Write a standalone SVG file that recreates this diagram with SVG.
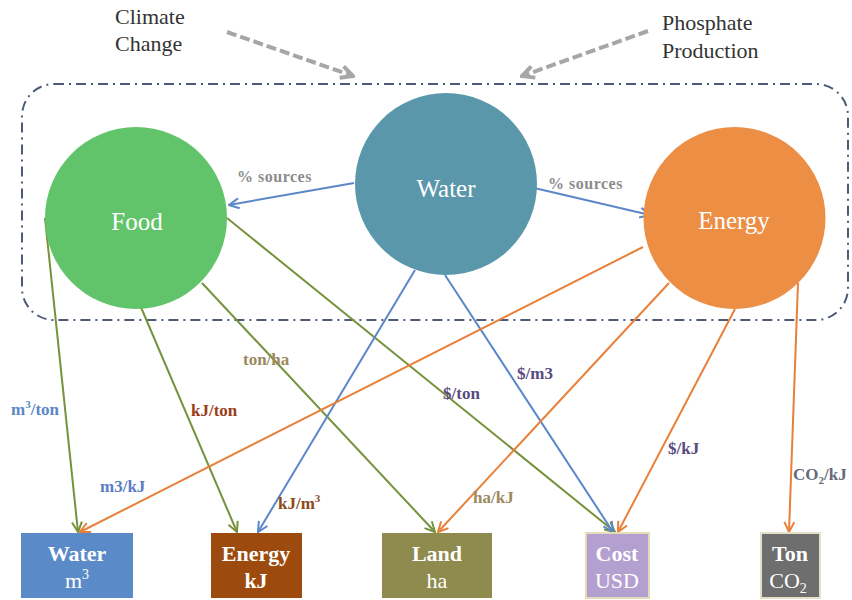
<svg xmlns="http://www.w3.org/2000/svg" width="852" height="600" viewBox="0 0 852 600">
<style>
text{font-family:"Liberation Serif","Times New Roman",Times,serif}
.top{font-size:22px;fill:#333}
.cn{font-size:25px;fill:#fff;text-anchor:middle}
.bx{font-size:22px;fill:#fff;text-anchor:middle}
.b{font-weight:bold}
.lb{font-size:17px;font-weight:bold}
.src{font-size:16px;font-weight:bold;fill:#8c8c8c;letter-spacing:0.5px}
.g{stroke:#76923c;stroke-width:2;fill:none}
.bl{stroke:#5b87c8;stroke-width:2;fill:none}
.o{stroke:#e8803a;stroke-width:2;fill:none}
.dash{stroke:#a6a6a6;stroke-width:4;fill:none;stroke-dasharray:10 4}
</style>
<defs>
<marker id="ag" viewBox="0 0 12 12" refX="11" refY="6" markerWidth="12" markerHeight="12" markerUnits="userSpaceOnUse" orient="auto"><path d="M1,1 L11,6 L1,11" fill="none" stroke="#76923c" stroke-width="2"/></marker>
<marker id="ab" viewBox="0 0 12 12" refX="11" refY="6" markerWidth="12" markerHeight="12" markerUnits="userSpaceOnUse" orient="auto"><path d="M1,1 L11,6 L1,11" fill="none" stroke="#5b87c8" stroke-width="2"/></marker>
<marker id="ao" viewBox="0 0 12 12" refX="11" refY="6" markerWidth="12" markerHeight="12" markerUnits="userSpaceOnUse" orient="auto"><path d="M1,1 L11,6 L1,11" fill="none" stroke="#e8803a" stroke-width="2"/></marker>
<marker id="ad" viewBox="0 0 16 16" refX="14" refY="8" markerWidth="16" markerHeight="16" markerUnits="userSpaceOnUse" orient="auto"><path d="M2,2 L14,8 L2,14" fill="none" stroke="#a6a6a6" stroke-width="4"/></marker>
</defs>

<g id="influences">
<text class="top" x="115" y="24">Climate</text>
<text class="top" x="115" y="51">Change</text>
<text class="top" x="662" y="30">Phosphate</text>
<text class="top" x="662" y="58">Production</text>
<line class="dash" x1="227" y1="32" x2="353" y2="76" marker-end="url(#ad)"/>
<line class="dash" x1="648" y1="31" x2="522" y2="76" marker-end="url(#ad)"/>
</g>

<g id="nexus-boundary">
<rect x="22" y="84" width="826" height="236" rx="32" ry="32" fill="none" stroke="#4d5b78" stroke-width="2" stroke-dasharray="10 5 2 5"/>
</g>

<g id="connectors">
<line class="bl" x1="354" y1="183" x2="229" y2="205" marker-end="url(#ab)"/>
<line class="bl" x1="530" y1="187" x2="650" y2="215" marker-end="url(#ab)"/>
<line class="g" x1="45" y1="218" x2="78" y2="532" marker-end="url(#ag)"/>
<line class="g" x1="140" y1="305" x2="237" y2="532" marker-end="url(#ag)"/>
<line class="g" x1="202" y1="283" x2="435" y2="532" marker-end="url(#ag)"/>
<line class="g" x1="227" y1="218" x2="615" y2="532" marker-end="url(#ag)"/>
<line class="bl" x1="415" y1="270" x2="258" y2="532" marker-end="url(#ab)"/>
<line class="bl" x1="445" y1="275" x2="613" y2="532" marker-end="url(#ab)"/>
<line class="o" x1="643" y1="247" x2="80" y2="532" marker-end="url(#ao)"/>
<line class="o" x1="669" y1="283" x2="438" y2="532" marker-end="url(#ao)"/>
<line class="o" x1="735" y1="309" x2="618" y2="532" marker-end="url(#ao)"/>
<line class="o" x1="798" y1="283" x2="789" y2="532" marker-end="url(#ao)"/>
<text class="src" x="237" y="182">% sources</text>
<text class="src" x="548" y="189">% sources</text>
<text class="lb" x="243" y="365" fill="#9a8a5e">ton/ha</text>
<text class="lb" x="11" y="415" fill="#5b87c5">m<tspan font-size="11" dy="-7">3</tspan><tspan dy="7">/ton</tspan></text>
<text class="lb" x="191" y="416" fill="#9b3d18">kJ/ton</text>
<text class="lb" x="100" y="492" fill="#5b7ec5">m3/kJ</text>
<text class="lb" x="278" y="509" fill="#8b4a1a">kJ/m<tspan font-size="11" dy="-7">3</tspan></text>
<text class="lb" x="517" y="379" fill="#5a4a80">$/m3</text>
<text class="lb" x="443" y="399" fill="#5a4a80">$/ton</text>
<text class="lb" x="668" y="454" fill="#5a4a80">$/kJ</text>
<text class="lb" x="473" y="503" fill="#9a8a5e">ha/kJ</text>
<text class="lb" x="793" y="480" fill="#666a7a">CO<tspan font-size="11" dy="4">2</tspan><tspan dy="-4">/kJ</tspan></text>
</g>

<g id="food">
<circle cx="136" cy="218" r="91" fill="#62c46a"/>
<text class="cn" x="137" y="230">Food</text>
</g>
<g id="water">
<circle cx="446" cy="184" r="91" fill="#5b97ab"/>
<text class="cn" x="446" y="197">Water</text>
</g>
<g id="energy">
<circle cx="734.5" cy="218" r="91" fill="#ec8e44"/>
<text class="cn" x="734" y="229">Energy</text>
</g>

<g id="box-water">
<rect x="21" y="533" width="112" height="65" fill="#5b8ac8"/>
<text class="bx b" x="77" y="561">Water</text>
<text class="bx" x="77" y="588">m<tspan font-size="14" dy="-9">3</tspan></text>
</g>
<g id="box-energy">
<rect x="211" y="533" width="91" height="65" fill="#9c4a0e"/>
<text class="bx b" x="256" y="561">Energy</text>
<text class="bx b" x="256" y="588">kJ</text>
</g>
<g id="box-land">
<rect x="382" y="533" width="110" height="65" fill="#8f8a4e"/>
<text class="bx b" x="437" y="561">Land</text>
<text class="bx" x="437" y="588">ha</text>
</g>
<g id="box-cost">
<rect x="586" y="533" width="63" height="65" fill="#b4a0d0" stroke="#e4dcb8" stroke-width="2"/>
<text class="bx b" x="617" y="561">Cost</text>
<text class="bx" x="617" y="588">USD</text>
</g>
<g id="box-ton">
<rect x="761" y="533" width="59" height="65" fill="#6e6e6e" stroke="#e4e0c8" stroke-width="2"/>
<text class="bx b" x="790" y="561">Ton</text>
<text class="bx" x="788" y="588">CO<tspan font-size="14" dy="5">2</tspan></text>
</g>
</svg>
